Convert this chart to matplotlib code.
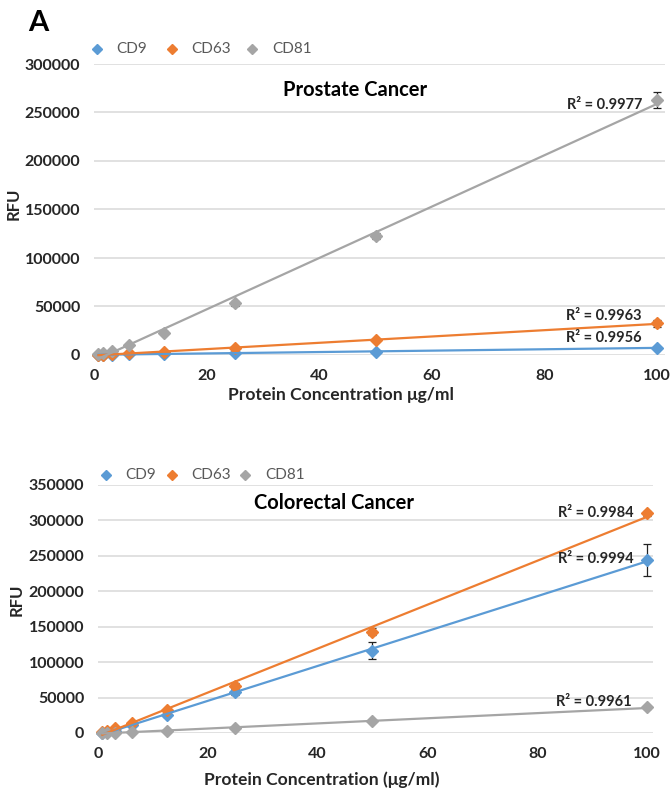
import numpy as np
import matplotlib.pyplot as plt
from matplotlib.lines import Line2D

plt.rcParams['font.family'] = ['Lato', 'DejaVu Sans']

conc = [0.78, 1.56, 3.125, 6.25, 12.5, 25, 50, 100]
markers_names = ["CD9", "CD63", "CD81"]
colors = ["#5B9BD5", "#ED7D31", "#A5A5A5"]

# prostate cancer RFU
pc_cd9 = [150, 300, 500, 800, 1200, 1800, 3500, 7500]
pc_cd63 = [300, 500, 900, 1600, 3000, 7000, 15500, 32500]
pc_cd81 = [1200, 2000, 4500, 10500, 23000, 53500, 122500, 263000]
pc_err_cd9 = [100, 100, 150, 200, 300, 400, 600, 1000]
pc_err_cd63 = [150, 200, 300, 400, 600, 900, 1500, 4000]
pc_err_cd81 = [300, 400, 800, 1200, 1800, 2500, 3000, 8000]
pc_r2 = ["R² = 0.9956", "R² = 0.9963", "R² = 0.9977"]

# colorectal cancer RFU
cc_cd9 = [500, 1500, 3000, 11000, 25500, 58000, 116000, 244000]
cc_cd63 = [1500, 3000, 7000, 14500, 32000, 67000, 143000, 310000]
cc_cd81 = [200, 400, 700, 1200, 2500, 7000, 16500, 36000]
cc_err_cd9 = [300, 500, 900, 1500, 3000, 4500, 12000, 23000]
cc_err_cd63 = [400, 600, 1000, 1500, 2500, 4000, 5000, 4000]
cc_err_cd81 = [100, 200, 300, 400, 600, 1000, 1500, 2500]
cc_r2 = ["R² = 0.9994", "R² = 0.9984", "R² = 0.9961"]

W, H = 671, 790


def fx(px):
    return px / W


def fy(py):
    return 1 - py / H


def panel(rect, series, errs, r2_labels, r2_pos, ymax, xmax, title, title_xy):
    ax = fig.add_axes(rect)
    x = np.array(conc)
    for i, (y, e) in enumerate(zip(series, errs)):
        y = np.array(y)
        ax.errorbar(x, y, yerr=e, fmt="none", ecolor="#222222", elinewidth=0.9,
                    capsize=3, capthick=0.9, zorder=3, clip_on=False)
        ax.plot(x, y, "D", color=colors[i], ms=6.5, zorder=4 + i,
                linestyle="none", clip_on=False)
        # linear trendline over the measured range
        k, b = np.polyfit(x, y, 1)
        xs = np.array([x.min(), x.max()])
        ax.plot(xs, k * xs + b, color=colors[i], lw=1.6, zorder=7, clip_on=False)
        ax.text(r2_pos[i][0], r2_pos[i][1], r2_labels[i], ha="right", va="center",
                fontsize=10.5, fontweight="bold", color="#262626", zorder=8)
    ax.set_xlim(0, xmax)
    ax.set_ylim(0, ymax)
    ax.set_xticks(range(0, 101, 20))
    ax.set_yticks(range(0, ymax + 1, 50000))
    ax.grid(axis="y", color="#D9D9D9", lw=1.1)
    ax.set_axisbelow(True)
    for s in ax.spines.values():
        s.set_visible(False)
    ax.tick_params(length=0, labelsize=11.5, pad=10, labelcolor="#262626")
    for lab in ax.get_xticklabels() + ax.get_yticklabels():
        lab.set_fontweight("bold")
    ax.text(title_xy[0], title_xy[1], title, transform=ax.transAxes, ha="center",
            va="center", fontsize=14.5, fontweight="bold", color="#000000")
    return ax


def legend_row(marker_px, text_px, y_px):
    for i, name in enumerate(markers_names):
        fig.add_artist(Line2D([fx(marker_px[i])], [fy(y_px)], marker="D",
                              color=colors[i], ms=5, linestyle="none"))
        fig.text(fx(text_px[i]), fy(y_px), name, ha="left", va="center",
                 fontsize=11, color="#595959")


fig = plt.figure(figsize=(6.71, 7.9), dpi=100)

# top panel: prostate cancer
panel([fx(94), fy(355), 571 / W, 291 / H],
      [pc_cd9, pc_cd63, pc_cd81],
      [pc_err_cd9, pc_err_cd63, pc_err_cd81],
      pc_r2, [(97.3, 17500), (97.3, 40000), (97.3, 258000)],
      300000, 101.4, "Prostate Cancer", (0.457, 0.91))
legend_row([97, 172, 252], [116, 191, 272], 49)
fig.text(fx(341), fy(395), "Protein Concentration μg/ml", ha="center",
         va="center", fontsize=12.6, fontweight="bold", color="#262626")
fig.text(fx(14), fy(204), "RFU", rotation=90, ha="center", va="center",
         fontsize=12, fontweight="bold", color="#262626")

# bottom panel: colorectal cancer
panel([fx(98), fy(733), 555 / W, 248 / H],
      [cc_cd9, cc_cd63, cc_cd81],
      [cc_err_cd9, cc_err_cd63, cc_err_cd81],
      cc_r2, [(97.5, 245000), (97.5, 311000), (97.2, 44000)],
      350000, 101.1, "Colorectal Cancer", (0.425, 0.927))
legend_row([106, 172, 245], [125, 191, 265], 475)
fig.text(fx(322), fy(780), "Protein Concentration (μg/ml)", ha="center",
         va="center", fontsize=12.6, fontweight="bold", color="#262626")
fig.text(fx(17), fy(600), "RFU", rotation=90, ha="center", va="center",
         fontsize=12, fontweight="bold", color="#262626")

fig.text(fx(38), fy(23), "A", ha="center", va="center", fontsize=21,
         fontweight="bold", color="#000000")

fig.savefig("out.png", dpi=100)
